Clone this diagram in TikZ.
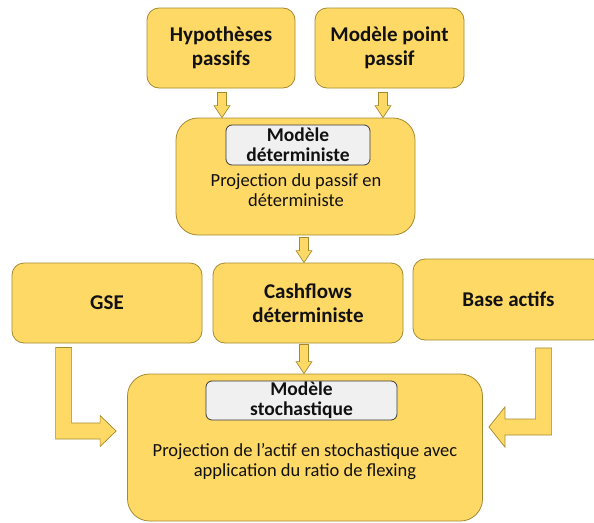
\documentclass[tikz,border=0pt]{standalone}
\usepackage{fontspec}
\setmainfont{Carlito}
\usetikzlibrary{calc}

\definecolor{boxyellow}{HTML}{FFD966}
\definecolor{boxedge}{HTML}{A38A2E}
\definecolor{lblfill}{HTML}{F0F0F0}
\definecolor{lbledge}{HTML}{3A3A3A}
\definecolor{ink}{HTML}{111111}

\tikzset{
  stepbox/.style={draw=boxedge, fill=boxyellow, line width=0.8pt, rounded corners=12pt,
    align=center, text=ink, font=\bfseries\fontsize{21}{24}\selectfont, inner sep=0pt},
  bigbox/.style={stepbox, rounded corners=22pt},
  lblbox/.style={draw=lbledge, fill=lblfill, line width=0.8pt, rounded corners=6pt,
    align=center, text=ink, font=\bfseries\fontsize{19.5}{20}\selectfont, inner sep=0pt},
  bodytext/.style={align=center, text=ink, font=\fontsize{18.5}{20}\selectfont, inner sep=0pt},
  blockarrow/.style={draw=boxedge, fill=boxyellow, line width=0.7pt, line join=miter},
}

% straight block arrow pointing down: #1 start of the shaft, #2 gives the tip height
\newcommand\downblock[2]{%
  \draw[blockarrow] let \p1=(#1), \p2=(#2) in
    (\x1-4.5pt,\y1) -- (\x1-4.5pt,\y2+12pt) -- (\x1-8pt,\y2+12pt) -- (\x1,\y2)
    -- (\x1+8pt,\y2+12pt) -- (\x1+4.5pt,\y2+12pt) -- (\x1+4.5pt,\y1) -- cycle;}

\begin{document}
\begin{tikzpicture}[x=1pt, y=-1pt]
  \useasboundingbox (0,0) rectangle (594,522);
  \clip (0,0) rectangle (594,522);

  % top row
  \node[stepbox, minimum width=148pt, minimum height=80pt] (hyp) at (221,48) {Hypothèses\\passifs};
  \node[stepbox, minimum width=149pt, minimum height=80pt] (mpp) at (389.5,48) {Modèle point\\passif};

  % deterministic model
  \node[bigbox, minimum width=239pt, minimum height=117pt] (det) at (295.5,176.5) {};
  \node[lblbox, minimum width=144pt, minimum height=40pt] (detlbl) at (298,145) {Modèle\\déterministe};
  \node[bodytext] (dettxt) at (296,190) {Projection du passif en\\déterministe};

  % middle row
  \node[stepbox, minimum width=190pt, minimum height=80pt] (gse) at (107,303) {GSE};
  \node[stepbox, minimum width=190pt, minimum height=80pt] (cash) at (308,303) {Cashflows\\déterministe};
  \node[stepbox, minimum width=191pt, minimum height=81pt] (base) at (508.5,299.5) {Base actifs};

  % stochastic model
  \node[bigbox, minimum width=355pt, minimum height=147pt] (sto) at (305,447.5) {};
  \node[lblbox, minimum width=191pt, minimum height=39pt] (stolbl) at (301.5,400.5) {Modèle\\stochastique};
  \node[bodytext] (stotxt) at (305,462) {Projection de l’actif en stochastique avec\\application du ratio de flexing};

  % straight connectors
  \coordinate (a1) at ($(hyp.south)+(1,4)$);
  \coordinate (a2) at ($(mpp.south)+(-6.5,4)$);
  \coordinate (a3) at ($(det.south)+(8.5,2)$);
  \coordinate (a4) at ($(cash.south)+(-4,1)$);
  \downblock{a1}{det.north}
  \downblock{a2}{det.north}
  \downblock{a3}{cash.north}
  \downblock{a4}{sto.north}

  % bent connector from GSE
  \coordinate (g0) at ($(gse.south west)+(52,4)$);
  \coordinate (gtip) at ($(sto.west)+(-11,-16.5)$);
  \draw[blockarrow] let \p1=(g0), \p2=(gtip) in
    (\x1-8pt,\y1) -- (\x1-8pt,\y2-8pt) -- (\x2-16pt,\y2-8pt) -- (\x2-16pt,\y2-15.5pt)
    -- (\x2,\y2) -- (\x2-16pt,\y2+15.5pt) -- (\x2-16pt,\y2+8pt) -- (\x1+8pt,\y2+8pt)
    -- (\x1+8pt,\y1) -- cycle;

  % bent connector from the asset base
  \coordinate (b0) at ($(base.south west)+(131,7.5)$);
  \coordinate (btip) at ($(sto.east)+(6,-20.5)$);
  \draw[blockarrow] let \p1=(b0), \p2=(btip) in
    (\x1+8pt,\y1) -- (\x1+8pt,\y2-8pt) -- (\x2+16pt,\y2-8pt) -- (\x2+16pt,\y2-20pt)
    -- (\x2,\y2) -- (\x2+16pt,\y2+20pt) -- (\x2+16pt,\y2+8pt) -- (\x1-8pt,\y2+8pt)
    -- (\x1-8pt,\y1) -- cycle;
\end{tikzpicture}
\end{document}
